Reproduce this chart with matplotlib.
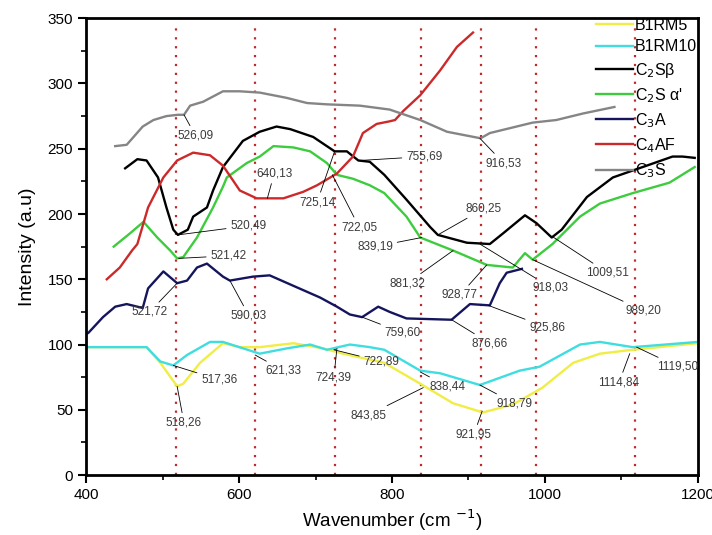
import matplotlib
matplotlib.use('Agg')
import matplotlib.pyplot as plt
from matplotlib.ticker import MultipleLocator

plt.rcParams['font.family'] = ['Liberation Sans', 'DejaVu Sans']

# --------------------------------------------------
# Spectra
# --------------------------------------------------
b1rm5_x = [400, 479, 497, 519, 527, 549, 579, 601, 627, 671, 710, 736, 790, 837, 880,
           919, 958, 997, 1037, 1072, 1115, 1200]
b1rm5_y = [98, 98, 86, 68, 70, 86, 101, 98, 98, 101, 97, 93, 86, 70, 55,
           48, 54, 67, 86, 93, 96, 101]

b1rm10_x = [400, 479, 497, 514, 532, 562, 579, 627, 662, 693, 715, 745, 771, 790, 837,
            863, 915, 967, 993, 1046, 1072, 1115, 1200]
b1rm10_y = [98, 98, 87, 84, 92, 102, 102, 93, 97, 100, 96, 100, 98, 96, 80,
            78, 69, 80, 83, 100, 102, 98, 102]

c2sb_x = [451, 467, 479, 494, 505, 514, 520, 533, 540, 558, 566, 579, 605, 627, 649,
          667, 697, 725, 741, 756, 771, 790, 819, 850, 860, 898, 928, 945, 974, 989,
          1009, 1022, 1055, 1089, 1133, 1167, 1180, 1196]
c2sb_y = [235, 242, 241, 228, 205, 188, 184, 188, 198, 205, 218, 236, 256, 263, 267,
          265, 259, 248, 248, 241, 240, 230, 211, 190, 184, 178, 177, 185, 199, 193,
          182, 188, 213, 228, 237, 244, 244, 243]

c2sa_x = [436, 457, 475, 493, 510, 519, 527, 545, 566, 579, 584, 610, 627, 645, 671,
          693, 715, 728, 749, 771, 790, 819, 837, 880, 924, 958, 974, 984, 1010, 1046,
          1072, 1115, 1163, 1196]
c2sa_y = [175, 185, 194, 182, 172, 166, 167, 182, 205, 221, 228, 239, 244, 252, 251,
          248, 239, 230, 227, 222, 216, 198, 182, 172, 161, 159, 170, 165, 177, 198,
          208, 216, 224, 236]

c3a_x = [400, 403, 422, 438, 453, 474, 481, 501, 519, 532, 545, 558, 579, 588, 618,
         640, 671, 706, 728, 745, 761, 782, 797, 819, 878, 902, 928, 941, 950, 970]
c3a_y = [108, 109, 121, 129, 131, 128, 143, 156, 147, 149, 159, 162, 152, 149, 152,
         153, 145, 136, 129, 123, 121, 129, 125, 120, 119, 131, 130, 147, 155, 158]

c4af_x = [427, 444, 460, 467, 481, 501, 519, 540, 562, 579, 601, 623, 658, 684, 702,
          728, 749, 762, 780, 797, 804, 815, 837, 863, 885, 906]
c4af_y = [150, 159, 172, 177, 205, 228, 241, 247, 245, 237, 218, 212, 212, 217, 222,
          231, 244, 262, 269, 271, 272, 279, 291, 310, 328, 339]

c3s_x = [438, 453, 474, 488, 505, 520, 528, 536, 553, 579, 601, 627, 662, 689, 715,
         758, 797, 837, 872, 916, 928, 984, 1015, 1050, 1091]
c3s_y = [252, 253, 267, 272, 275, 276, 276, 283, 286, 294, 294, 293, 289, 285, 284,
         283, 280, 272, 263, 258, 262, 270, 272, 277, 282]

# reference band positions (dotted lines)
band_x = [518, 621, 725, 838, 917, 989, 1118]

# peak labels: text, point on curve, label position
peak_labels = ['526,09', '640,13', '520,49', '725,14', '722,05', '755,69', '916,53',
               '860,25', '839,19', '521,42', '590,03', '521,72', '759,60', '876,66',
               '925,86', '881,32', '928,77', '918,03', '1009,51', '989,20', '517,36',
               '518,26', '621,33', '724,39', '722,89', '843,85', '838,44', '918,79',
               '921,95', '1114,84', '1119,50']
peak_xy = [(528, 276), (637, 212), (520, 184), (725, 248), (722, 230), (758, 241),
           (915, 258), (860, 184), (839, 182), (521, 166), (588, 149), (519, 147),
           (761, 121), (878, 119), (926, 130), (880, 172), (924, 161), (915, 177),
           (1009, 183), (984, 165), (514, 84), (519, 68), (621, 92), (728, 97),
           (724, 96), (841, 67), (837, 79), (915, 69), (918, 49), (1111, 93), (1120, 98)]
label_xy = [(543, 260), (646, 231), (612, 191), (702, 209), (757, 190), (842, 244),
            (946, 239), (920, 204), (778, 175), (586, 168), (613, 122), (483, 125),
            (814, 109), (928, 101), (1003, 113), (820, 147), (889, 138), (1007, 144),
            (1082, 155), (1129, 126), (574, 73), (528, 40), (658, 80), (724, 75),
            (786, 87), (769, 46), (872, 68), (960, 55), (907, 31), (1097, 71), (1174, 83)]

series = [
    (b1rm5_x, b1rm5_y, '#f0ee45', 'B1RM5'),
    (b1rm10_x, b1rm10_y, '#3fdde0', 'B1RM10'),
    (c2sb_x, c2sb_y, '#000000', 'C$_2$Sβ'),
    (c2sa_x, c2sa_y, '#3dcc3d', "C$_2$S α'"),
    (c3a_x, c3a_y, '#15155e', 'C$_3$A'),
    (c4af_x, c4af_y, '#cc2a2a', 'C$_4$AF'),
    (c3s_x, c3s_y, '#858585', 'C$_3$S'),
]

# --------------------------------------------------
# Plot
# --------------------------------------------------
fig = plt.figure(figsize=(7.12, 5.35), dpi=100)
ax = fig.add_axes([0.121, 0.112, 0.859, 0.854])

ax.vlines(band_x, 0, 343, colors='#c0282a', linestyles=(0, (1, 3)), linewidth=1.6, zorder=1)

for xs, ys, color, label in series:
    ax.plot(xs, ys, color=color, lw=1.7, label=label, zorder=2)

for txt, pt, pos in zip(peak_labels, peak_xy, label_xy):
    ax.annotate(txt, xy=pt, xytext=pos, ha='center', va='center',
                fontsize=8.5, color='#3a3a3a',
                arrowprops=dict(arrowstyle='-', color='black', lw=0.6,
                                shrinkA=1, shrinkB=0), zorder=3)

ax.set_xlim(400, 1200)
ax.set_ylim(0, 350)
ax.xaxis.set_major_locator(MultipleLocator(200))
ax.xaxis.set_minor_locator(MultipleLocator(100))
ax.yaxis.set_major_locator(MultipleLocator(50))
ax.yaxis.set_minor_locator(MultipleLocator(25))
ax.tick_params(which='major', length=6, width=1.5, labelsize=11)
ax.tick_params(which='minor', length=3.5, width=1.2)
for sp in ax.spines.values():
    sp.set_linewidth(2)

ax.set_xlabel('Wavenumber (cm $^{-1}$)', fontsize=13.5)
ax.set_ylabel('Intensity (a.u)', fontsize=14, labelpad=8)

ax.legend(loc='upper right', bbox_to_anchor=(1.009, 1.015), frameon=False,
          fontsize=11.5, handlelength=2.3, handletextpad=0.1, labelspacing=0.4,
          borderaxespad=0)

fig.savefig('out.png', dpi=100)
